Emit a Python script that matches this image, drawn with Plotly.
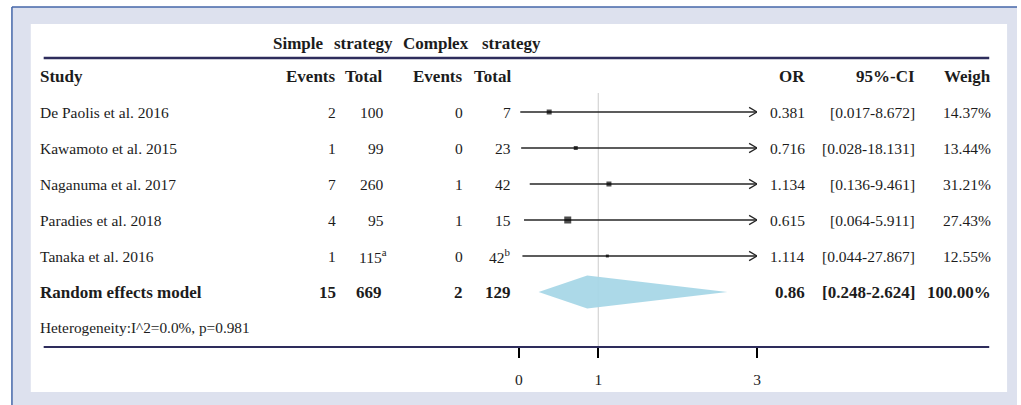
import plotly.graph_objects as go

# ---- data -------------------------------------------------------------
studies = [
    "De Paolis et al. 2016",
    "Kawamoto et al. 2015",
    "Naganuma et al. 2017",
    "Paradies et al. 2018",
    "Tanaka et al. 2016",
]
simple_events = [2, 1, 7, 4, 1]
simple_totals = [100, 99, 260, 95, 115]
simple_notes = ["", "", "", "", "a"]
complex_events = [0, 0, 1, 1, 0]
complex_totals = [7, 23, 42, 15, 42]
complex_notes = ["", "", "", "", "b"]
odds_ratio = [0.381, 0.716, 1.134, 0.615, 1.114]
ci_low = [0.017, 0.028, 0.136, 0.064, 0.044]
ci_high = [8.672, 18.131, 9.461, 5.911, 27.867]
weights = [14.37, 13.44, 31.21, 27.43, 12.55]

pooled_label = "Random effects model"
pooled_simple = [15, 669]
pooled_complex = [2, 129]
pooled_or = 0.86
pooled_ci = [0.248, 2.624]
pooled_weight = 100.00

heterogeneity_i2 = 0.0
heterogeneity_p = 0.981

x_ticks = [0, 1, 3]

# ---- styling ----------------------------------------------------------
W, H = 1021, 405
SERIF = "Liberation Serif"
TXT = "#1c1c1c"
NAVY = "#2e2d5c"
LINE = "#262626"
X_MAX = 3                       # CIs beyond this end in an arrowhead
box_sizes = [5, 4, 5, 7, 3]     # square marker side lengths (px)
HEAD_DX, HEAD_DY = 0.1, 0.13    # arrowhead length / half-height (axis units)

# right-hand edges of the table columns (px)
COL_SE, COL_ST, COL_CE, COL_CT = 332, 380, 460, 508
COL_OR, COL_CI, COL_W = 804, 915, 992


def fx(px):
    return px / W


def fy(py):
    return 1 - py / H


def num(v):
    return f"{v:g}"


fig = go.Figure()

# confidence-interval segments, with a chevron where they run off the axis
for i in range(len(studies)):
    fig.add_trace(go.Scatter(
        x=[ci_low[i], min(ci_high[i], X_MAX)], y=[i, i],
        mode="lines", line=dict(color=LINE, width=1.3),
        hoverinfo="skip", showlegend=False))
    if ci_high[i] > X_MAX:
        fig.add_trace(go.Scatter(
            x=[X_MAX - HEAD_DX, X_MAX, X_MAX - HEAD_DX],
            y=[i - HEAD_DY, i, i + HEAD_DY],
            mode="lines", line=dict(color=LINE, width=1.3),
            hoverinfo="skip", showlegend=False, cliponaxis=False))

# study point estimates
fig.add_trace(go.Scatter(
    x=odds_ratio, y=list(range(len(studies))), mode="markers",
    marker=dict(symbol="square", color="black", size=box_sizes,
                line=dict(width=0)),
    text=studies, hovertemplate="%{text}: OR %{x}<extra></extra>",
    showlegend=False))

# pooled diamond
r = len(studies)
half = 0.46
fig.add_trace(go.Scatter(
    x=[pooled_ci[0], pooled_or, pooled_ci[1], pooled_or, pooled_ci[0]],
    y=[r, r - half, r, r + half, r],
    mode="lines", fill="toself", fillcolor="rgba(166,214,230,0.93)",
    line=dict(width=0), hoverinfo="skip", showlegend=False))

ann = []


def text(x_px, y, s, anchor="right", bold=False, size=None, yref="y"):
    # small nudge so the glyph edge (not the label box) sits on x_px
    x_adj = x_px - 5 if anchor == "left" else x_px + 4
    ann.append(dict(
        x=fx(x_adj), y=y, xref="paper", yref=yref,
        text=f"<b>{s}</b>" if bold else s,
        showarrow=False, xanchor=anchor, yanchor="middle", borderpad=0,
        font=dict(family=SERIF, size=size or (17 if bold else 15.5), color=TXT)))


# group headers
for x_px, s in [(275, "Simple"), (337, "strategy"), (406, "Complex"), (486, "strategy")]:
    text(x_px, fy(44), s, anchor="left", bold=True, yref="paper")

# column headers
text(40, fy(76), "Study", anchor="left", bold=True, yref="paper")
for x_px, s in [(COL_SE, "Events"), (COL_ST - 2, "Total"), (COL_CE, "Events"),
                (COL_CT, "Total"), (COL_OR, "OR"), (COL_CI, "95%-CI"), (COL_W, "Weigh")]:
    text(x_px, fy(76), s, bold=True, yref="paper")

# study rows
for i, name in enumerate(studies):
    text(40, i, name, anchor="left")
    text(COL_SE, i, str(simple_events[i]))
    st = str(simple_totals[i]) + (f"<sup>{simple_notes[i]}</sup>" if simple_notes[i] else "")
    text(COL_ST + (3 if simple_notes[i] else 0), i, st)
    text(COL_CE, i, str(complex_events[i]))
    ct = str(complex_totals[i]) + (f"<sup>{complex_notes[i]}</sup>" if complex_notes[i] else "")
    text(COL_CT, i, ct)
    text(COL_OR, i, num(odds_ratio[i]))
    text(COL_CI, i, f"[{num(ci_low[i])}-{num(ci_high[i])}]")
    text(COL_W, i, f"{weights[i]:.2f}%")

# pooled row
text(40, r, pooled_label, anchor="left", bold=True)
text(COL_SE, r, str(pooled_simple[0]), bold=True)
text(COL_ST - 2, r, str(pooled_simple[1]), bold=True)
text(COL_CE, r, str(pooled_complex[0]), bold=True)
text(COL_CT, r, str(pooled_complex[1]), bold=True)
text(COL_OR, r, num(pooled_or), bold=True)
text(COL_CI, r, f"[{num(pooled_ci[0])}-{num(pooled_ci[1])}]", bold=True)
text(COL_W, r, f"{pooled_weight:.2f}%", bold=True)

text(40, r + 1, f"Heterogeneity:I^2={heterogeneity_i2:.1f}%, p={num(heterogeneity_p)}",
     anchor="left", size=15.3)

shapes = [
    # page backdrop
    dict(type="rect", xref="paper", yref="paper", x0=fx(8), x1=1, y0=0, y1=fy(7),
         fillcolor="#dde1ee", line=dict(width=0), layer="below"),
    dict(type="line", xref="paper", yref="paper", x0=fx(8), x1=1, y0=fy(7), y1=fy(7),
         line=dict(color="#4466a8", width=1.5), layer="below"),
    dict(type="line", xref="paper", yref="paper", x0=fx(8), x1=fx(8), y0=0, y1=fy(7),
         line=dict(color="#4466a8", width=1.5), layer="below"),
    dict(type="rect", xref="paper", yref="paper", x0=fx(27), x1=fx(1011), y0=fy(392),
         y1=fy(24), fillcolor="white", line=dict(width=0), layer="below"),
    # line of no effect
    dict(type="line", xref="x", yref="y domain", x0=1, x1=1, y0=0, y1=1,
         line=dict(color="#d4d4d4", width=1.2), layer="below"),
    # table rules
    dict(type="line", xref="paper", yref="paper", x0=fx(40), x1=fx(993), y0=fy(58),
         y1=fy(58), line=dict(color=NAVY, width=2.6)),
    dict(type="line", xref="paper", yref="paper", x0=fx(40), x1=fx(993), y0=fy(347),
         y1=fy(347), line=dict(color=NAVY, width=2.2)),
]

fig.update_layout(
    width=W, height=H, margin=dict(l=0, r=0, t=0, b=0),
    paper_bgcolor="white", plot_bgcolor="rgba(0,0,0,0)", showlegend=False,
    xaxis=dict(domain=[fx(519), fx(759)], range=[0, X_MAX], tickvals=x_ticks,
               ticktext=[str(t) for t in x_ticks], ticks="outside", ticklen=10,
               tickwidth=2.2, tickcolor="black", showline=False, showgrid=False,
               zeroline=False, ticklabelstandoff=8,
               tickfont=dict(family=SERIF, size=15.5, color=TXT)),
    yaxis=dict(domain=[fy(347), fy(93)], range=[6.528, -0.528], visible=False),
    annotations=ann, shapes=shapes,
)

fig.write_html("out.html")
